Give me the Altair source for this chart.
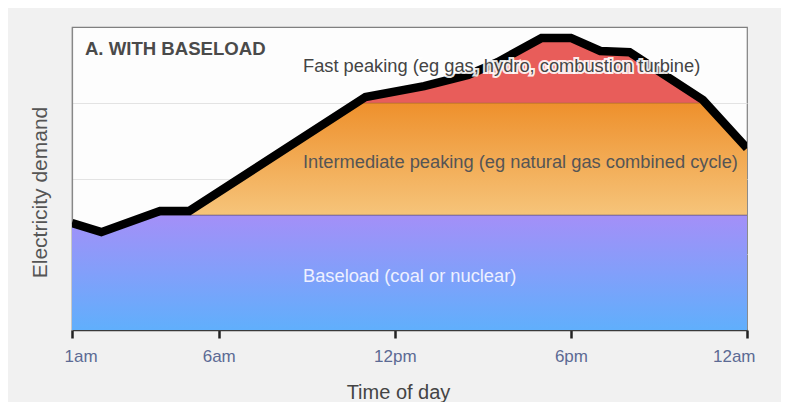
import altair as alt
import pandas as pd

# ---- data ----
hours = [1, 2, 4, 5, 11, 13, 14.5, 15.5, 17, 18, 19, 20, 22.5, 24]
demand = [35.3, 32.3, 39.3, 39.3, 76.9, 80.5, 84.2, 88.4, 96.4, 96.4, 92.1, 91.7, 75.9, 60.0]
BASELOAD = 38.0
INTERMEDIATE = 75.0

tick_hours = [1, 6, 12, 18, 24]
tick_labels = ["1am", "6am", "12pm", "6pm", "12am"]

annot_text = [
    "A. WITH BASELOAD",
    "Fast peaking (eg gas, hydro, combustion turbine)",
    "Intermediate peaking (eg natural gas combined cycle)",
    "Baseload (coal or nuclear)",
]
annot_hour = [1.44, 8.87, 8.87, 8.87]
annot_level = [90.8, 85.1, 53.5, 15.8]


# ---- geometric clipping: add the points where the demand line crosses a level ----
def with_crossings(xs, ys, levels):
    px, py = [xs[0]], [ys[0]]
    for i in range(1, len(xs)):
        x0, y0, x1, y1 = xs[i - 1], ys[i - 1], xs[i], ys[i]
        cuts = []
        for t in levels:
            if (y0 - t) * (y1 - t) < 0:
                f = (t - y0) / (y1 - y0)
                cuts.append((x0 + f * (x1 - x0), t))
        cuts.sort()
        for cx_, cy_ in cuts:
            px.append(cx_)
            py.append(cy_)
        px.append(x1)
        py.append(y1)
    return px, py


cx, cy = with_crossings(hours, demand, [BASELOAD, INTERMEDIATE])
eps = 1e-9

base_df = pd.DataFrame({"hour": cx, "top": [min(v, BASELOAD) for v in cy], "bottom": 0.0})
inter_df = pd.DataFrame(
    {"hour": [h for h, v in zip(cx, cy) if v >= BASELOAD - eps],
     "top": [min(v, INTERMEDIATE) for v in cy if v >= BASELOAD - eps]}
)
inter_df["bottom"] = BASELOAD
fast_df = pd.DataFrame(
    {"hour": [h for h, v in zip(cx, cy) if v >= INTERMEDIATE - eps],
     "top": [v for v in cy if v >= INTERMEDIATE - eps]}
)
fast_df["bottom"] = INTERMEDIATE
line_df = pd.DataFrame({"hour": hours, "top": demand})

FONT = "Liberation Sans"

label_expr = " : ".join(
    f"datum.value == {h} ? '{l}'" for h, l in zip(tick_hours, tick_labels)
) + " : ''"

xscale = alt.Scale(domain=[1, 24], nice=False, zero=False)
yscale = alt.Scale(domain=[0, 100], nice=False, zero=False)

xaxis = alt.Axis(
    values=tick_hours, labelExpr=label_expr, title="Time of day", grid=False,
    domainColor="#3a3a3a", domainWidth=1.5, tickColor="#222", tickWidth=2.5, tickSize=8,
    labelFont=FONT, labelFontSize=17, labelColor="#5c6a94", labelPadding=10,
    labelFlush=True, labelFlushOffset=8,
    titleFont=FONT, titleFontSize=20, titleFontWeight="normal", titleColor="#444",
    titlePadding=18, titleX=326,
)
yaxis = alt.Axis(
    values=[25, 50, 75], labels=False, ticks=False, grid=True, gridColor="#e3e3e3",
    gridWidth=1, domainColor="#888", domainWidth=1.2, title="Electricity demand",
    titleFont=FONT, titleFontSize=21, titleFontWeight="normal", titleColor="#555",
    titlePadding=22, titleY=165,
)


def X():
    return alt.X("hour:Q", scale=xscale, axis=xaxis)


def Y(field="top:Q"):
    return alt.Y(field, scale=yscale, axis=yaxis)


purple = alt.Gradient(
    gradient="linear", x1=0, x2=0, y1=0, y2=1,
    stops=[alt.GradientStop(color="#a48ff8", offset=0),
           alt.GradientStop(color="#60affc", offset=1)],
)
orange = alt.Gradient(
    gradient="linear", x1=0, x2=0, y1=0, y2=1,
    stops=[alt.GradientStop(color="#ee902c", offset=0),
           alt.GradientStop(color="#f6c47a", offset=1)],
)

base_area = alt.Chart(base_df).mark_area(
    color=purple, opacity=1, fillOpacity=1,
    line={"color": "#5f5170", "strokeWidth": 1.5},
).encode(x=X(), y=Y(), y2="bottom:Q")

inter_area = alt.Chart(inter_df).mark_area(
    color=orange, opacity=1, fillOpacity=1,
    line={"color": "#7a4a1e", "strokeWidth": 1.2},
).encode(x=X(), y=Y(), y2="bottom:Q")

fast_area = alt.Chart(fast_df).mark_area(
    color="#e85d5a", opacity=1, fillOpacity=1
).encode(x=X(), y=Y(), y2="bottom:Q")

demand_line = alt.Chart(line_df).mark_line(
    color="#000", strokeWidth=8.5, clip=True
).encode(x=X(), y=Y())

styles = [
    dict(fontWeight="bold", color="#4a4a4a", halo=False, size=18.6),
    dict(fontWeight="normal", color="#444", halo=True, size=18.3),
    dict(fontWeight="normal", color="#555", halo=False, size=18.3),
    dict(fontWeight="normal", color="#eef0ff", halo=False, size=18.3),
]

text_layers = []
for t, h, lv, st in zip(annot_text, annot_hour, annot_level, styles):
    d = pd.DataFrame({"hour": [h], "top": [lv], "label": [t]})
    if st["halo"]:
        text_layers.append(
            alt.Chart(d).mark_text(
                align="left", baseline="alphabetic", font=FONT, fontSize=st["size"],
                fontWeight=st["fontWeight"], color="#fff", stroke="#fff",
                strokeWidth=4, strokeOpacity=0.9,
            ).encode(x=X(), y=Y(), text="label:N")
        )
    text_layers.append(
        alt.Chart(d).mark_text(
            align="left", baseline="alphabetic", font=FONT, fontSize=st["size"],
            fontWeight=st["fontWeight"], color=st["color"],
        ).encode(x=X(), y=Y(), text="label:N")
    )

chart = alt.layer(base_area, inter_area, fast_area, demand_line, *text_layers).properties(
    width=675, height=303,
    background="#f1f1f1",
    padding={"left": 64, "top": 19, "right": 34, "bottom": 72},
    autosize=alt.AutoSizeParams(type="none"),
).configure_view(
    fill="#fdfdfd", stroke="#808080", strokeWidth=1.2
)

chart.save("out.html", embed_options={"renderer": "svg", "actions": False})
